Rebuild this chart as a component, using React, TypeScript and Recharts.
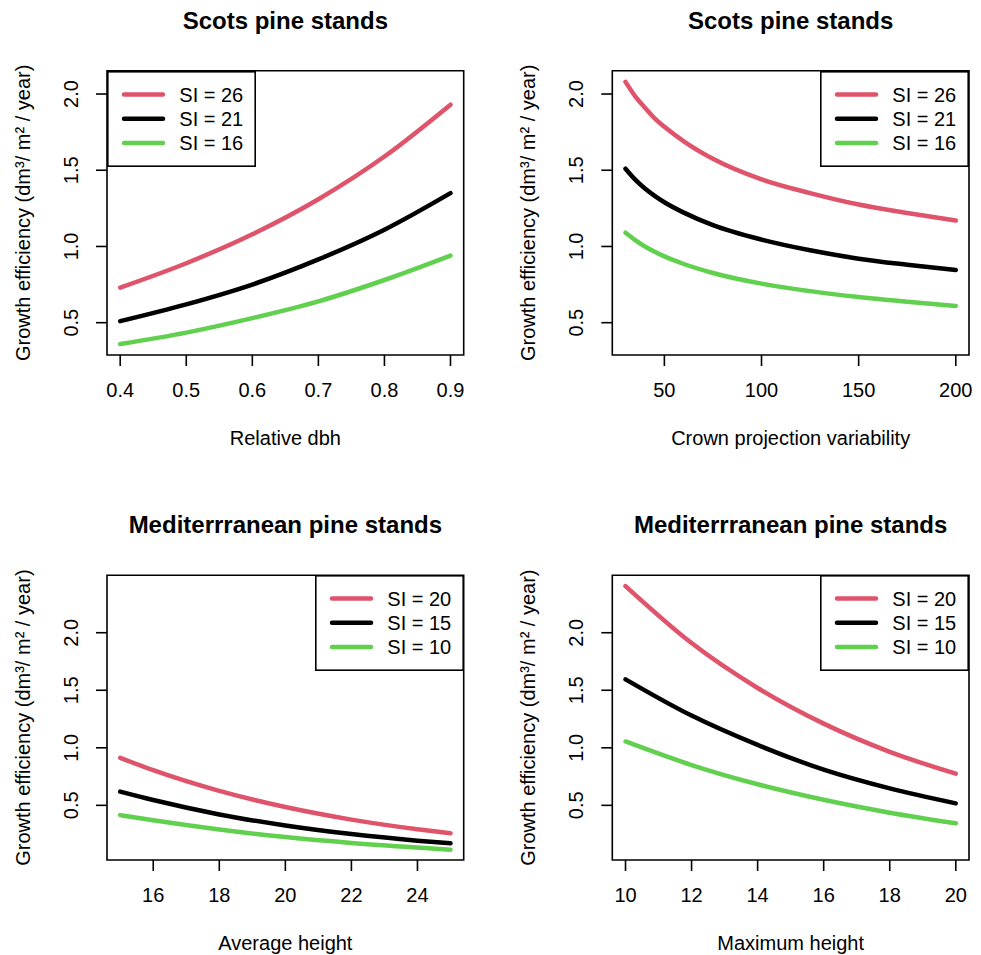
import React from 'react';
import { Legend, Line, LineChart, ReferenceArea, XAxis, YAxis } from 'recharts';

const FONT = '"Liberation Sans", Arial, Helvetica, sans-serif';
const RED = '#DF536B';
const GREEN = '#61D04F';
const BLACK = '#000000';

// Scots pine: relative dbh
const dbhX = [0.4, 0.5, 0.6, 0.7, 0.8, 0.9];
const dbhSI26 = [0.73, 0.89, 1.08, 1.31, 1.59, 1.93];
const dbhSI21 = [0.51, 0.62, 0.75, 0.915, 1.11, 1.35];
const dbhSI16 = [0.36, 0.435, 0.53, 0.64, 0.78, 0.94];

// Scots pine: crown projection variability
const cpvX = [30, 35, 40, 45, 50, 60, 75, 100, 125, 150, 175, 200];
const cpvSI26 = [2.08, 1.985, 1.91, 1.84, 1.785, 1.69, 1.575, 1.44, 1.35, 1.275, 1.22, 1.17];
const cpvSI21 = [1.51, 1.438, 1.38, 1.332, 1.29, 1.222, 1.14, 1.045, 0.975, 0.92, 0.88, 0.845];
const cpvSI16 = [1.09, 1.042, 1.0, 0.965, 0.935, 0.885, 0.826, 0.756, 0.707, 0.668, 0.637, 0.61];

// Mediterranean pine: average height
const avgX = [15, 16, 18, 20, 22, 24, 25];
const avgSI20 = [0.913, 0.805, 0.625, 0.485, 0.376, 0.292, 0.257];
const avgSI15 = [0.619, 0.546, 0.421, 0.325, 0.25, 0.193, 0.17];
const avgSI10 = [0.415, 0.37, 0.29, 0.224, 0.173, 0.133, 0.115];

// Mediterranean pine: maximum height
const maxX = [10, 12, 14, 16, 18, 20];
const maxSI20 = [2.405, 1.91, 1.52, 1.21, 0.965, 0.775];
const maxSI15 = [1.595, 1.28, 1.025, 0.81, 0.647, 0.517];
const maxSI10 = [1.055, 0.85, 0.683, 0.548, 0.436, 0.344];

const yTicks = [0.5, 1.0, 1.5, 2.0];
const yLabelText = 'Growth efficiency (dm³/ m² / year)';

const toRows = (xs: number[], a: number[], b: number[], c: number[]) =>
    xs.map((x, i) => ({ x, a: a[i], b: b[i], c: c[i] }));

const XTick = (props: any) => {
    const { x, y, payload, fmt } = props;
    return (
        <text x={x} y={y} dy={29} textAnchor="middle" fontSize={20} fontFamily={FONT} fill="#000">
            {fmt(payload.value)}
        </text>
    );
};

const YTick = (props: any) => {
    const { x, y, payload } = props;
    const bx = x - 16;
    return (
        <text x={bx} y={y} transform={`rotate(-90 ${bx} ${y})`} textAnchor="middle" fontSize={20} fontFamily={FONT} fill="#000">
            {Number(payload.value).toFixed(1)}
        </text>
    );
};

const renderLegend = (props: any) => {
    // keep the series order (a, b, c) instead of the alphabetical default
    const items = [...(props.payload || [])].sort((m: any, n: any) => String(m.dataKey).localeCompare(String(n.dataKey)));
    return (
        <svg width={149} height={96} style={{ display: 'block' }}>
            <rect x={0.8} y={0.8} width={147.4} height={94.4} fill="#fff" stroke="#000" strokeWidth={1.6} />
            {items.map((p: any, i: number) => {
                const cy = 23.6 + i * 24.2;
                return (
                    <g key={i}>
                        <line x1={17} x2={56} y1={cy} y2={cy} stroke={p.color} strokeWidth={4.5} strokeLinecap="round" />
                        <text x={72.3} y={cy + 7} fontSize={20} fontFamily={FONT} fill="#000">
                            {p.value}
                        </text>
                    </g>
                );
            })}
        </svg>
    );
};

interface PanelProps {
    left: number;
    top: number;
    width: number;
    height: number;
    margin: { top: number; right: number; bottom: number; left: number };
    data: { x: number; a: number; b: number; c: number }[];
    xDomain: [number, number];
    xTicks: number[];
    xFmt: (v: number) => string;
    yDomain: [number, number];
    title: string;
    xLabel: string;
    names: string[];
    legendPos: { left: number; top: number };
}

function Panel(p: PanelProps) {
    const plotW = p.width - p.margin.left - p.margin.right - 60;
    const titleX = p.margin.left + 60 + plotW / 2;
    return (
        <div style={{ position: 'absolute', left: p.left, top: p.top, width: p.width, height: p.height }}>
            <LineChart width={p.width} height={p.height} data={p.data} margin={p.margin}>
                <XAxis
                    dataKey="x"
                    type="number"
                    domain={p.xDomain}
                    ticks={p.xTicks}
                    allowDataOverflow
                    axisLine={false}
                    tickSize={11}
                    tickLine={{ stroke: '#000', strokeWidth: 1.6 }}
                    tick={<XTick fmt={p.xFmt} />}
                    interval={0}
                    height={60}
                    label={{
                        content: (lp: any) => {
                            const vb = lp.viewBox;
                            return (
                                <text x={vb.x + vb.width / 2} y={vb.y + 90} textAnchor="middle" fontSize={20} fontFamily={FONT} fill="#000">
                                    {p.xLabel}
                                </text>
                            );
                        }
                    }}
                />
                <YAxis
                    type="number"
                    domain={p.yDomain}
                    ticks={yTicks}
                    allowDataOverflow
                    axisLine={false}
                    tickSize={11}
                    tickLine={{ stroke: '#000', strokeWidth: 1.6 }}
                    tick={<YTick />}
                    interval={0}
                    width={60}
                    label={{
                        content: (lp: any) => {
                            const vb = lp.viewBox;
                            const bx = vb.x + vb.width - 77;
                            const cy = vb.y + vb.height / 2;
                            return (
                                <text x={bx} y={cy} transform={`rotate(-90 ${bx} ${cy})`} textAnchor="middle" fontSize={20} fontFamily={FONT} fill="#000">
                                    {yLabelText}
                                </text>
                            );
                        }
                    }}
                />
                <ReferenceArea
                    x1={p.xDomain[0]}
                    x2={p.xDomain[1]}
                    y1={p.yDomain[0]}
                    y2={p.yDomain[1]}
                    fill="none"
                    stroke="#000"
                    strokeWidth={1.6}
                    ifOverflow="visible"
                />
                <Line type="monotone" dataKey="a" name={p.names[0]} stroke={RED} strokeWidth={4.5} strokeLinecap="round" dot={false} isAnimationActive={false} />
                <Line type="monotone" dataKey="b" name={p.names[1]} stroke={BLACK} strokeWidth={4.5} strokeLinecap="round" dot={false} isAnimationActive={false} />
                <Line type="monotone" dataKey="c" name={p.names[2]} stroke={GREEN} strokeWidth={4.5} strokeLinecap="round" dot={false} isAnimationActive={false} />
                <Legend
                    layout="vertical"
                    align="center"
                    verticalAlign="middle"
                    content={renderLegend}
                    wrapperStyle={{ left: p.legendPos.left, top: p.legendPos.top, width: 149, height: 96 }}
                />
            </LineChart>
            <svg width={p.width} height={p.height} style={{ position: 'absolute', left: 0, top: 0, pointerEvents: 'none' }}>
                <text x={titleX} y={p.margin.top - 42} textAnchor="middle" fontSize={24} fontWeight="bold" fontFamily={FONT} fill="#000">
                    {p.title}
                </text>
            </svg>
        </div>
    );
}

const fmt1 = (v: number) => v.toFixed(1);
const fmt0 = (v: number) => String(v);

export default function App() {
    return (
        <div style={{ position: 'absolute', left: 0, top: 0, width: 981, height: 955, background: '#fff' }}>
            <Panel
                left={0}
                top={0}
                width={490}
                height={477}
                margin={{ top: 70.7, right: 26.3, bottom: 62, left: 47 }}
                data={toRows(dbhX, dbhSI26, dbhSI21, dbhSI16)}
                xDomain={[0.38, 0.92]}
                xTicks={[0.4, 0.5, 0.6, 0.7, 0.8, 0.9]}
                xFmt={fmt1}
                yDomain={[0.288, 2.153]}
                title="Scots pine stands"
                xLabel="Relative dbh"
                names={['SI = 26', 'SI = 21', 'SI = 16']}
                legendPos={{ left: 107, top: 70.7 }}
            />
            <Panel
                left={490}
                top={0}
                width={491}
                height={477}
                margin={{ top: 70.7, right: 12, bottom: 62, left: 62.3 }}
                data={toRows(cpvX, cpvSI26, cpvSI21, cpvSI16)}
                xDomain={[23.2, 206.8]}
                xTicks={[50, 100, 150, 200]}
                xFmt={fmt0}
                yDomain={[0.288, 2.153]}
                title="Scots pine stands"
                xLabel="Crown projection variability"
                names={['SI = 26', 'SI = 21', 'SI = 16']}
                legendPos={{ left: 330, top: 70.7 }}
            />
            <Panel
                left={0}
                top={477}
                width={490}
                height={478}
                margin={{ top: 98.3, right: 26.3, bottom: 35, left: 47 }}
                data={toRows(avgX, avgSI20, avgSI15, avgSI10)}
                xDomain={[14.6, 25.4]}
                xTicks={[16, 18, 20, 22, 24]}
                xFmt={fmt0}
                yDomain={[0.025, 2.499]}
                title="Mediterrranean pine stands"
                xLabel="Average height"
                names={['SI = 20', 'SI = 15', 'SI = 10']}
                legendPos={{ left: 314.7, top: 98.3 }}
            />
            <Panel
                left={490}
                top={477}
                width={491}
                height={478}
                margin={{ top: 98.3, right: 12, bottom: 35, left: 62.3 }}
                data={toRows(maxX, maxSI20, maxSI15, maxSI10)}
                xDomain={[9.6, 20.4]}
                xTicks={[10, 12, 14, 16, 18, 20]}
                xFmt={fmt0}
                yDomain={[0.025, 2.499]}
                title="Mediterrranean pine stands"
                xLabel="Maximum height"
                names={['SI = 20', 'SI = 15', 'SI = 10']}
                legendPos={{ left: 330, top: 98.3 }}
            />
        </div>
    );
}
